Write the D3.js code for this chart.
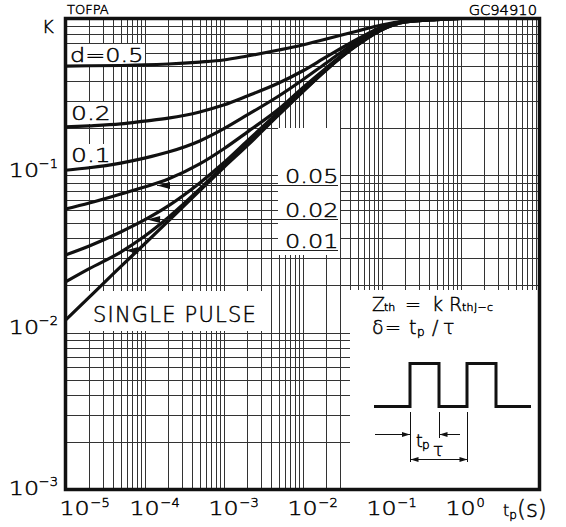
<!DOCTYPE html>
<html>
<head>
<meta charset="utf-8">
<script src="https://cdn.jsdelivr.net/npm/d3@7"></script>
<style>
body { margin: 0; background: #fff; }
text { font-family: "DejaVu Sans", "Liberation Sans", Arial, sans-serif; font-weight: 200;
       fill: #000; stroke: #000; stroke-width: 0.45; }
</style>
</head>
<body>
<script>
// pulse duration (s)
var tp = [1e-5, 2e-5, 5e-5, 1e-4, 2e-4, 5e-4, 1e-3, 2e-3, 5e-3, 1e-2, 2e-2, 5e-2, 0.1, 0.2, 0.5, 1, 10];

// K for each duty cycle
var kSingle = [0.012, 0.0168, 0.0263, 0.0366, 0.0513, 0.080, 0.112, 0.155, 0.243, 0.34, 0.47, 0.68, 0.845, 0.95, 0.985, 1, 1];
var k001 = [0.021, 0.0255, 0.0325, 0.041, 0.054, 0.082, 0.115, 0.159, 0.245, 0.342, 0.472, 0.68, 0.847, 0.95, 0.985, 1, 1];
var k002 = [0.0312, 0.0356, 0.0437, 0.0521, 0.064, 0.0896, 0.120, 0.166, 0.254, 0.35, 0.478, 0.685, 0.85, 0.952, 0.986, 1, 1];
var k005 = [0.0612, 0.0668, 0.0762, 0.0845, 0.095, 0.1185, 0.1475, 0.189, 0.265, 0.361, 0.484, 0.698, 0.857, 0.964, 0.99, 1, 1];
var k01 = [0.108, 0.112, 0.120, 0.129, 0.141, 0.166, 0.198, 0.243, 0.321, 0.406, 0.521, 0.719, 0.870, 0.964, 0.99, 1, 1];
var k02 = [0.204, 0.207, 0.213, 0.222, 0.232, 0.254, 0.281, 0.321, 0.388, 0.463, 0.569, 0.740, 0.883, 0.964, 0.99, 1, 1];
var k05 = [0.498, 0.500, 0.502, 0.506, 0.513, 0.528, 0.544, 0.577, 0.630, 0.678, 0.740, 0.833, 0.909, 0.964, 0.99, 1, 1];

var curves = [kSingle, k001, k002, k005, k01, k02, k05];

// tick labels
var xTicks = [1e-5, 1e-4, 1e-3, 1e-2, 1e-1, 1];
var xExp = ["\u22125", "\u22124", "\u22123", "\u22122", "\u22121", "0"];
var yTicks = [1e-3, 1e-2, 1e-1];
var yExp = ["\u22123", "\u22122", "\u22121"];

// arrows pointing from labels to curves (t, K)
var arrowLabels = ["0.05", "0.02", "0.01"];
var arrowT = [1.44e-4, 1.08e-4, 5.7e-5];
var arrowK = [0.087, 0.0528, 0.0335];

var width = 566, height = 527;

var x = d3.scaleLog().domain([1e-5, 10]).range([65.5, 539.5]);
var y = d3.scaleLog().domain([1e-3, 1]).range([489.5, 18.5]);

var svg = d3.select("body").append("svg")
    .attr("width", width)
    .attr("height", height);

// grid
var grid = svg.append("g").attr("stroke", "#333").attr("stroke-width", 1)
    .attr("shape-rendering", "crispEdges");
grid.selectAll("line.v").data(x.ticks()).enter().append("line")
    .attr("x1", function(d) { return Math.round(x(d)) + 0.5; })
    .attr("x2", function(d) { return Math.round(x(d)) + 0.5; })
    .attr("y1", y(1)).attr("y2", y(1e-3));
grid.selectAll("line.h").data(y.ticks()).enter().append("line")
    .attr("y1", function(d) { return Math.round(y(d)) + 0.5; })
    .attr("y2", function(d) { return Math.round(y(d)) + 0.5; })
    .attr("x1", x(1e-5)).attr("x2", x(10));

// white boxes behind labels
var boxes = [
  [67, 44, 78, 21],     // d=0.5
  [67, 102, 43, 22],    // 0.2
  [67, 144, 40, 22],    // 0.1
  [278, 128, 62, 127],  // 0.05 / 0.02 / 0.01
  [86, 291, 180, 40],   // SINGLE PULSE
  [350, 290, 188, 199]  // inset
];
svg.selectAll("rect.box").data(boxes).enter().append("rect")
    .attr("x", function(d) { return d[0]; })
    .attr("y", function(d) { return d[1]; })
    .attr("width", function(d) { return d[2]; })
    .attr("height", function(d) { return d[3]; })
    .attr("fill", "#fff");

// curves
var line = d3.line()
    .x(function(d, i) { return x(tp[i]); })
    .y(function(d) { return y(d); })
    .curve(d3.curveMonotoneX);

svg.selectAll("path.curve").data(curves).enter().append("path")
    .attr("class", "curve")
    .attr("d", line)
    .attr("fill", "none")
    .attr("stroke", "#111")
    .attr("stroke-width", 3.2);

// leader lines and arrows
arrowLabels.forEach(function(lab, i) {
  var ax = x(arrowT[i]), ay = Math.round(y(arrowK[i])) + 0.5;
  svg.append("line").attr("x1", ax).attr("x2", 338).attr("y1", ay).attr("y2", ay)
      .attr("stroke", "#222").attr("stroke-width", 1.2);
  svg.append("path")
      .attr("d", "M" + ax + "," + ay + "l13,-3.5v7z")
      .attr("fill", "#111");
  svg.append("text").attr("transform", "translate(285," + (ay - 2.5) + ") scale(1.2,1)")
      .attr("font-size", 20).text(lab);
});

// frame
svg.append("rect")
    .attr("x", x(1e-5)).attr("y", y(1))
    .attr("width", x(10) - x(1e-5)).attr("height", y(1e-3) - y(1))
    .attr("fill", "none").attr("stroke", "#111").attr("stroke-width", 3.5);

// axis tick labels
function pow10(px, py, exp, anchorEnd) {
  var g = svg.append("g");
  if (anchorEnd) {
    g.append("text").attr("transform", "translate(" + (px - 19) + "," + py + ") scale(1.25,1)")
        .attr("text-anchor", "end").attr("font-size", 19).text("10");
    g.append("text").attr("transform", "translate(" + px + "," + (py - 9) + ")")
        .attr("text-anchor", "end").attr("font-size", 13).text(exp);
  } else {
    g.append("text").attr("transform", "translate(" + px + "," + py + ") scale(1.25,1)")
        .attr("text-anchor", "middle").attr("font-size", 19).text("10");
    g.append("text").attr("transform", "translate(" + (px + 16) + "," + (py - 8) + ")")
        .attr("font-size", 13).text(exp);
  }
}
xTicks.forEach(function(d, i) { pow10(x(d) + (i === 0 ? 9 : 0), 515, xExp[i], false); });
yTicks.forEach(function(d, i) { pow10(58, y(d) + (i === 0 ? 5 : 1), yExp[i], true); });

svg.append("text").attr("x", 42).attr("y", 33).attr("font-size", 18).text("K");

var xl = svg.append("text").attr("x", 503).attr("y", 516);
xl.append("tspan").attr("font-size", 16).text("t");
xl.append("tspan").attr("font-size", 12).attr("dy", 3).text("p");
xl.append("tspan").attr("font-size", 23).attr("dy", -2).text("(s)");

svg.append("text").attr("transform", "translate(67,14)").attr("font-size", 13).text("TOFPA");
svg.append("text").attr("transform", "translate(537,15) scale(1.05,1)").attr("text-anchor", "end")
    .attr("font-size", 14).text("GC94910");

// curve labels
svg.append("text").attr("transform", "translate(70,62) scale(1.2,1)").attr("font-size", 20).text("d=0.5");
svg.append("text").attr("transform", "translate(71,120) scale(1.25,1)").attr("font-size", 20).text("0.2");
svg.append("text").attr("transform", "translate(71,162) scale(1.25,1)").attr("font-size", 20).text("0.1");
svg.append("text").attr("x", 93).attr("y", 322).attr("font-size", 21).attr("letter-spacing", 1.2).text("SINGLE PULSE");

// inset formulae
var f1 = svg.append("text").attr("y", 311).attr("font-size", 19);
f1.append("tspan").attr("x", 372).text("Z");
f1.append("tspan").attr("x", 384).attr("font-size", 11).text("th");
f1.append("tspan").attr("x", 405).text("=");
f1.append("tspan").attr("x", 432).text("k");
f1.append("tspan").attr("x", 449).text("R");
f1.append("tspan").attr("x", 462).attr("font-size", 11).attr("letter-spacing", 0.3).text("thJ\u2212c");

var f2 = svg.append("text").attr("y", 334).attr("font-size", 19);
f2.append("tspan").attr("x", 372).text("\u03b4");
f2.append("tspan").attr("x", 385).text("=");
f2.append("tspan").attr("x", 409).text("t");
f2.append("tspan").attr("x", 417).attr("font-size", 12).attr("dy", 2).text("p");
f2.append("tspan").attr("x", 432).attr("dy", -2).text("/");
f2.append("tspan").attr("x", 443).text("\u03c4");

// pulse train
svg.append("path")
    .attr("d", "M374,406.5H410V363.5H439V406.5H467V363.5H496V406.5H531")
    .attr("fill", "none").attr("stroke", "#111").attr("stroke-width", 3);

var dim = svg.append("g").attr("stroke", "#111").attr("stroke-width", 1).attr("fill", "none");
dim.append("path").attr("d", "M410.5,412V462M439.5,412V438M467.5,412V462");
dim.append("path").attr("d", "M375,434.5H410M439,434.5H460M410,459.5H467");
var heads = svg.append("g").attr("fill", "#111");
heads.append("path").attr("d", "M410,434.5l-8,-2.5v5z");
heads.append("path").attr("d", "M439.5,434.5l8,-2.5v5z");
heads.append("path").attr("d", "M410.5,459.5l8,-2.5v5z");
heads.append("path").attr("d", "M467.5,459.5l-8,-2.5v5z");

var f3 = svg.append("text").attr("y", 447).attr("font-size", 17);
f3.append("tspan").attr("x", 416).text("t");
f3.append("tspan").attr("x", 422).attr("font-size", 12).attr("dy", 2).text("p");
svg.append("text").attr("x", 438).attr("y", 456).attr("text-anchor", "middle")
    .attr("font-size", 17).text("\u03c4");
</script>
</body>
</html>
